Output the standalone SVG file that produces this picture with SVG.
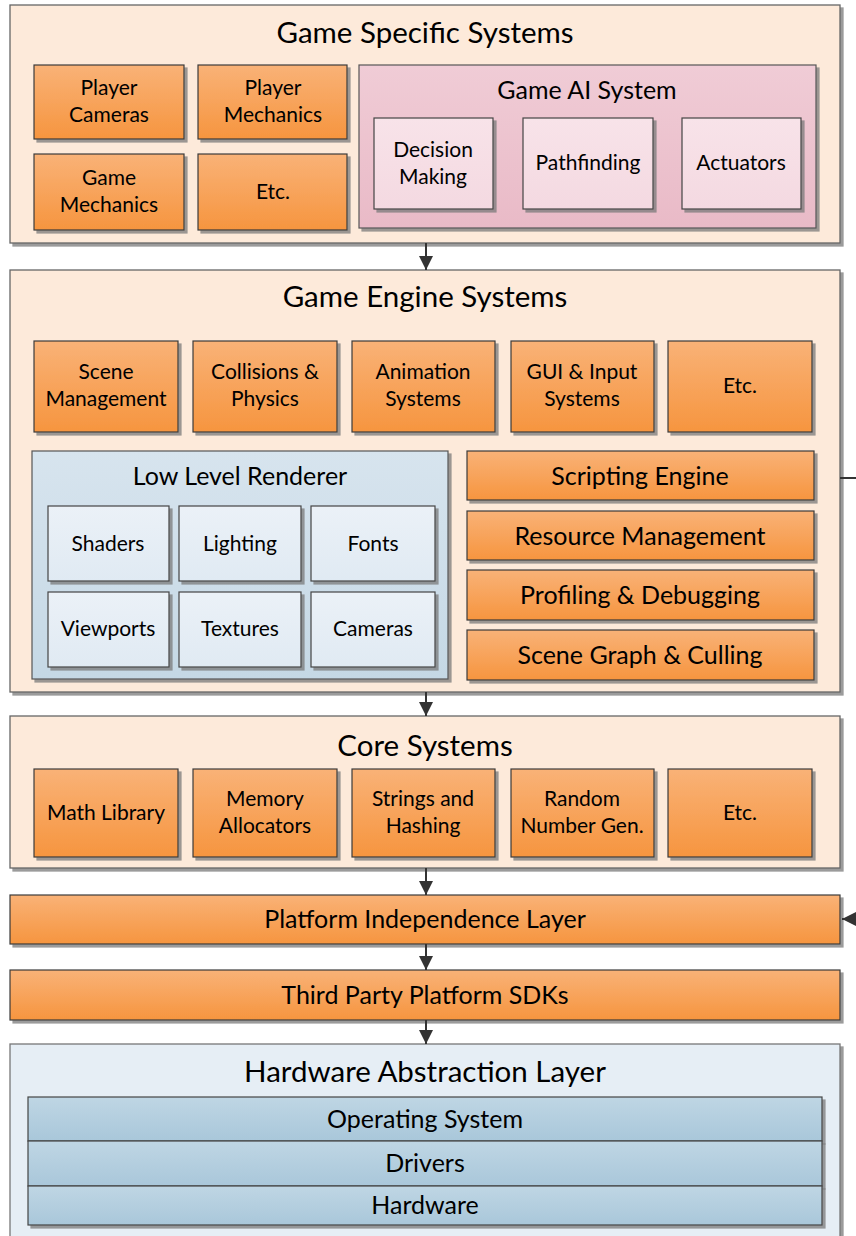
<svg xmlns="http://www.w3.org/2000/svg" width="856" height="1236" viewBox="0 0 856 1236">
<defs>
<linearGradient id="gOr" x1="0" y1="0" x2="0" y2="1"><stop offset="0" stop-color="#F9B277"/><stop offset="1" stop-color="#F6953F"/></linearGradient>
<linearGradient id="gAi" x1="0" y1="0" x2="0" y2="1"><stop offset="0" stop-color="#F0CCD6"/><stop offset="1" stop-color="#E9BAC7"/></linearGradient>
<linearGradient id="gAiIn" x1="0" y1="0" x2="0" y2="1"><stop offset="0" stop-color="#F8E3E9"/><stop offset="1" stop-color="#F4D9E1"/></linearGradient>
<linearGradient id="gRen" x1="0" y1="0" x2="0" y2="1"><stop offset="0" stop-color="#D7E4EE"/><stop offset="1" stop-color="#C5D8E5"/></linearGradient>
<linearGradient id="gRenIn" x1="0" y1="0" x2="0" y2="1"><stop offset="0" stop-color="#EBF1F7"/><stop offset="1" stop-color="#E0EAF3"/></linearGradient>
<linearGradient id="gHal" x1="0" y1="0" x2="0" y2="1"><stop offset="0" stop-color="#BFD6E4"/><stop offset="1" stop-color="#A9C7DA"/></linearGradient>
<filter id="sh" x="-5%" y="-5%" width="115%" height="115%"><feDropShadow dx="3" dy="3" stdDeviation="0.6" flood-color="#7a7a7a" flood-opacity="0.75"/></filter>
<marker id="ah" viewBox="0 0 10 10" refX="10" refY="5" markerWidth="14" markerHeight="14" markerUnits="userSpaceOnUse" orient="auto"><path d="M0,0 L10,5 L0,10 z" fill="#333"/></marker>
</defs>
<style>
text{font-family:Lato,"Liberation Sans",sans-serif;fill:#000;text-anchor:middle;dominant-baseline:central;transform:translateY(-1.5px)}
.outer{fill:#FDEADA;stroke:#666;stroke-width:1.3;filter:url(#sh)}
.hal{fill:#E6EEF5;stroke:#777;stroke-width:1.3;filter:url(#sh)}
.or{fill:url(#gOr);stroke:#3a3a3a;stroke-width:1.2;filter:url(#sh)}
.ai{fill:url(#gAi);stroke:#555;stroke-width:1.2;filter:url(#sh)}
.aiin{fill:url(#gAiIn);stroke:#444;stroke-width:1.2;filter:url(#sh)}
.ren{fill:url(#gRen);stroke:#555;stroke-width:1.2;filter:url(#sh)}
.renin{fill:url(#gRenIn);stroke:#444;stroke-width:1.2;filter:url(#sh)}
.lay{fill:url(#gHal);stroke:#444;stroke-width:1.2;filter:url(#sh)}
.t1{font-size:29.5px}
.t2{font-size:25px}
.t3{font-size:21px}
.t4{font-size:25px}
.con{stroke:#333;stroke-width:2;fill:none;marker-end:url(#ah)}
</style>

<g id="game-specific">
<rect class="outer" x="10" y="5" width="830" height="238"/>
<text class="t1" x="425" y="33">Game Specific Systems</text>
</g>
<g id="player-cameras"><rect class="or" x="34" y="65" width="150" height="74"/><text class="t3" x="109" y="88">Player</text><text class="t3" x="109" y="115">Cameras</text></g>
<g id="player-mechanics"><rect class="or" x="198" y="65" width="149" height="74"/><text class="t3" x="273" y="88">Player</text><text class="t3" x="273" y="115">Mechanics</text></g>
<g id="game-mechanics"><rect class="or" x="34" y="154" width="150" height="76"/><text class="t3" x="109" y="178">Game</text><text class="t3" x="109" y="205">Mechanics</text></g>
<g id="etc-1"><rect class="or" x="198" y="154" width="149" height="76"/><text class="t3" x="273" y="192">Etc.</text></g>
<g id="game-ai"><rect class="ai" x="359" y="65" width="457" height="163"/><text class="t2" x="587" y="90">Game AI System</text></g>
<g id="decision-making"><rect class="aiin" x="374" y="118" width="119" height="91"/><text class="t3" x="433" y="150">Decision</text><text class="t3" x="433" y="177">Making</text></g>
<g id="pathfinding"><rect class="aiin" x="523" y="118" width="130" height="91"/><text class="t3" x="588" y="163">Pathfinding</text></g>
<g id="actuators"><rect class="aiin" x="682" y="118" width="119" height="91"/><text class="t3" x="741" y="163">Actuators</text></g>

<g id="game-engine"><rect class="outer" x="10" y="270" width="830" height="422"/><text class="t1" x="425" y="297">Game Engine Systems</text></g>
<g id="scene-management"><rect class="or" x="34" y="341" width="144" height="91"/><text class="t3" x="106" y="372">Scene</text><text class="t3" x="106" y="399">Management</text></g>
<g id="collisions"><rect class="or" x="193" y="341" width="144" height="91"/><text class="t3" x="265" y="372">Collisions &amp;</text><text class="t3" x="265" y="399">Physics</text></g>
<g id="animation"><rect class="or" x="352" y="341" width="143" height="91"/><text class="t3" x="423" y="372">Animation</text><text class="t3" x="423" y="399">Systems</text></g>
<g id="gui-input"><rect class="or" x="511" y="341" width="143" height="91"/><text class="t3" x="582" y="372">GUI &amp; Input</text><text class="t3" x="582" y="399">Systems</text></g>
<g id="etc-2"><rect class="or" x="668" y="341" width="144" height="91"/><text class="t3" x="740" y="386">Etc.</text></g>
<g id="low-level-renderer"><rect class="ren" x="32" y="451" width="416" height="228"/><text class="t2" x="240" y="476">Low Level Renderer</text></g>
<g id="shaders"><rect class="renin" x="48" y="506" width="121" height="75"/><text class="t3" x="108" y="544">Shaders</text></g>
<g id="lighting"><rect class="renin" x="179" y="506" width="122" height="75"/><text class="t3" x="240" y="544">Lighting</text></g>
<g id="fonts"><rect class="renin" x="311" y="506" width="124" height="75"/><text class="t3" x="373" y="544">Fonts</text></g>
<g id="viewports"><rect class="renin" x="48" y="592" width="121" height="75"/><text class="t3" x="108" y="629">Viewports</text></g>
<g id="textures"><rect class="renin" x="179" y="592" width="122" height="75"/><text class="t3" x="240" y="629">Textures</text></g>
<g id="cameras"><rect class="renin" x="311" y="592" width="124" height="75"/><text class="t3" x="373" y="629">Cameras</text></g>
<g id="scripting-engine"><rect class="or" x="467" y="451" width="347" height="49"/><text class="t4" x="640" y="476">Scripting Engine</text></g>
<g id="resource-management"><rect class="or" x="467" y="511" width="347" height="49"/><text class="t4" x="640" y="536">Resource Management</text></g>
<g id="profiling"><rect class="or" x="467" y="570" width="347" height="50"/><text class="t4" x="640" y="595">Profiling &amp; Debugging</text></g>
<g id="scene-graph"><rect class="or" x="467" y="630" width="347" height="50"/><text class="t4" x="640" y="655">Scene Graph &amp; Culling</text></g>

<g id="core-systems"><rect class="outer" x="10" y="716" width="830" height="152"/><text class="t1" x="425" y="746">Core Systems</text></g>
<g id="math-library"><rect class="or" x="34" y="769" width="144" height="88"/><text class="t3" x="106" y="813">Math Library</text></g>
<g id="memory-allocators"><rect class="or" x="193" y="769" width="144" height="88"/><text class="t3" x="265" y="799">Memory</text><text class="t3" x="265" y="826">Allocators</text></g>
<g id="strings-hashing"><rect class="or" x="352" y="769" width="143" height="88"/><text class="t3" x="423" y="799">Strings and</text><text class="t3" x="423" y="826">Hashing</text></g>
<g id="random-number"><rect class="or" x="511" y="769" width="143" height="88"/><text class="t3" x="582" y="799">Random</text><text class="t3" x="582" y="826">Number Gen.</text></g>
<g id="etc-3"><rect class="or" x="668" y="769" width="144" height="88"/><text class="t3" x="740" y="813">Etc.</text></g>

<g id="platform-independence"><rect class="or" x="10" y="895" width="830" height="49"/><text class="t4" x="425" y="919">Platform Independence Layer</text></g>
<g id="third-party"><rect class="or" x="10" y="970" width="830" height="50"/><text class="t4" x="425" y="995">Third Party Platform SDKs</text></g>

<g id="hal"><rect class="hal" x="10" y="1044" width="830" height="205"/><text class="t1" x="425" y="1072">Hardware Abstraction Layer</text></g>
<g id="operating-system"><rect class="lay" x="28" y="1097" width="794" height="44"/><text class="t4" x="425" y="1119">Operating System</text></g>
<g id="drivers"><rect class="lay" x="28" y="1141" width="794" height="45"/><text class="t4" x="425" y="1163">Drivers</text></g>
<g id="hardware"><rect class="lay" x="28" y="1186" width="794" height="39"/><text class="t4" x="425" y="1205">Hardware</text></g>

<g id="connectors">
<path class="con" d="M426 243 V270"/>
<path class="con" d="M426 692 V716"/>
<path class="con" d="M426 868 V895"/>
<path class="con" d="M426 944 V970"/>
<path class="con" d="M426 1020 V1044"/>
<path class="con" d="M840 478 H880 V919 H842"/>
</g>
</svg>
